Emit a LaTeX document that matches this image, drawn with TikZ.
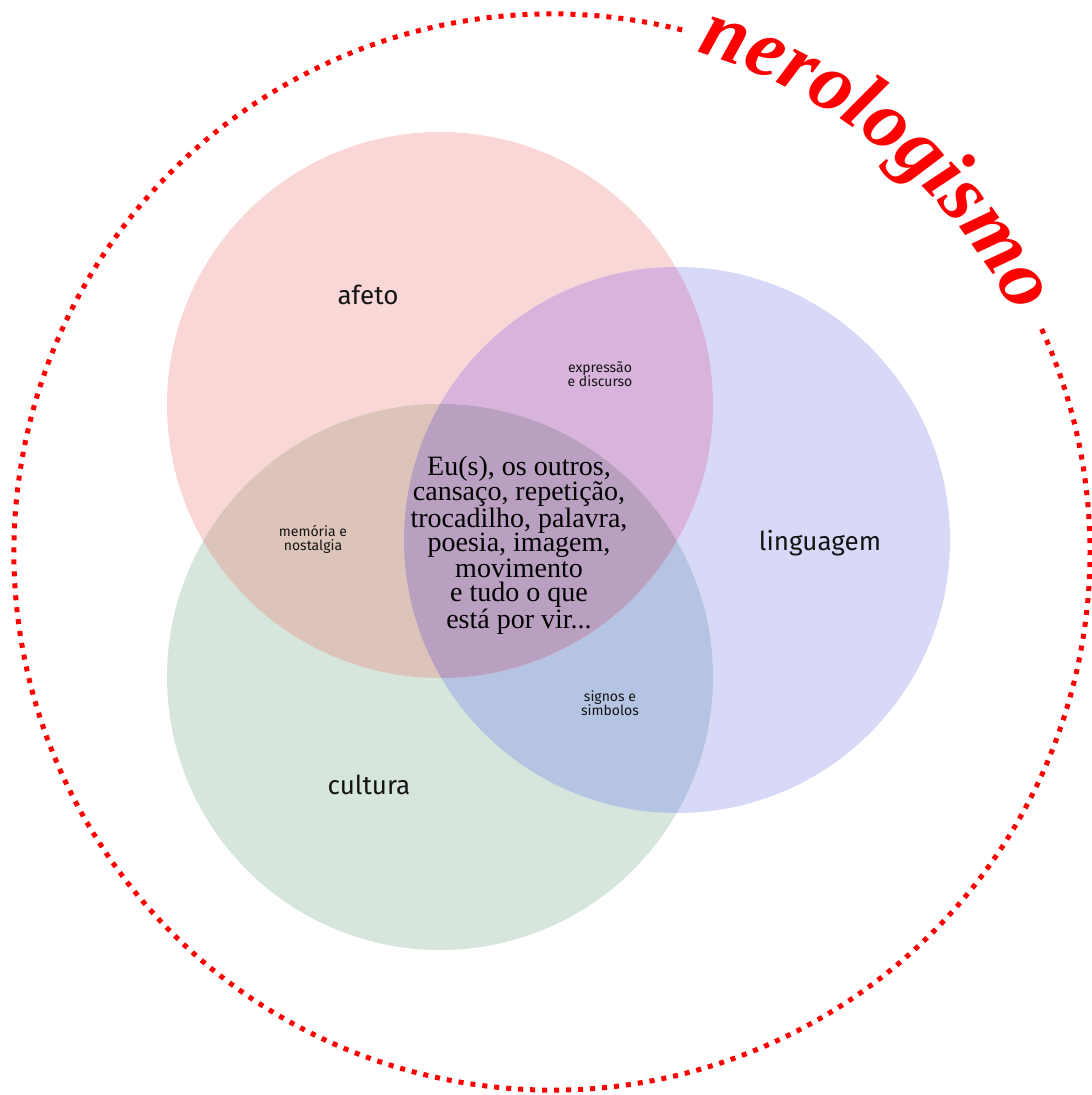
\documentclass[tikz,border=0pt]{standalone}
\usepackage{fontspec}
\setmainfont{Liberation Serif}
\newfontfamily\labelfont{Fira Sans}
\newfontfamily\nerofont{Liberation Serif}
\usetikzlibrary{decorations.text}
\definecolor{pinkonly}{RGB}{248,215,214}
\definecolor{blueonly}{RGB}{216,216,247}
\definecolor{greenonly}{RGB}{214,230,221}
\definecolor{pinkblue}{RGB}{216,180,220}
\definecolor{pinkgreen}{RGB}{221,196,186}
\definecolor{bluegreen}{RGB}{181,196,226}
\definecolor{allthree}{RGB}{185,160,193}
\definecolor{labelgray}{RGB}{20,20,20}
\begin{document}
\begin{tikzpicture}[x=1pt,y=1pt,
  biglabel/.style={font=\labelfont\fontsize{26}{30}\selectfont, text=labelgray, inner sep=0pt},
  smalllabel/.style={font=\labelfont\fontsize{14}{14}\selectfont, align=center, text=labelgray, inner sep=0pt},
  maintext/.style={font=\fontsize{28}{24.5}\selectfont, align=center, text=black, inner sep=0pt},
  dotring/.style={draw=red, line width=5pt, dash pattern=on 5pt off 7pt}
  ]
\useasboundingbox (0,0) rectangle (1092,1095);
\coordinate (O) at (552,543);
\coordinate (A) at (440,690);
\coordinate (L) at (677,555);
\coordinate (C) at (440,418);
\def\R{273pt}
% single circles
\fill[pinkonly] (A) circle[radius=\R];
\fill[blueonly] (L) circle[radius=\R];
\fill[greenonly] (C) circle[radius=\R];
% pairwise overlaps
\begin{scope}
  \clip (L) circle[radius=\R];
  \fill[bluegreen] (C) circle[radius=\R];
\end{scope}
\begin{scope}
  \clip (A) circle[radius=\R];
  \fill[pinkblue] (L) circle[radius=\R];
  \fill[pinkgreen] (C) circle[radius=\R];
  \clip (L) circle[radius=\R];
  \fill[allthree] (C) circle[radius=\R];
\end{scope}
% outer dotted ring
\path[dotring] ([shift={(76:538)}]O) arc[start angle=76, end angle=385, radius=538pt];
% curved title
\path[decorate, decoration={text along path, text align=center, text color=red,
  text={|\nerofont\bfseries\itshape\fontsize{83}{83}\selectfont|nerologismo}}]
  ([shift={(93.5:520)}]O) arc[start angle=93.5, end angle=7.5, radius=520pt];
% labels
\node[biglabel] (afeto) at (368,800) {afeto};
\node[biglabel] (ling) at (820,552) {linguagem};
\node[biglabel] (cult) at (369,310) {cultura};
\node[smalllabel] (expr) at (600,721) {expressão\\e discurso};
\node[smalllabel] (mem) at (313,556) {memória e\\nostalgia};
\node[smalllabel] (sig) at (610,392) {signos e\\simbolos};
\node[maintext] (core) at (519,550) {Eu(s), os outros,\\cansaço, repetição,\\trocadilho, palavra,\\poesia, imagem,\\movimento\\e tudo o que\\está por vir...};
\end{tikzpicture}
\end{document}
